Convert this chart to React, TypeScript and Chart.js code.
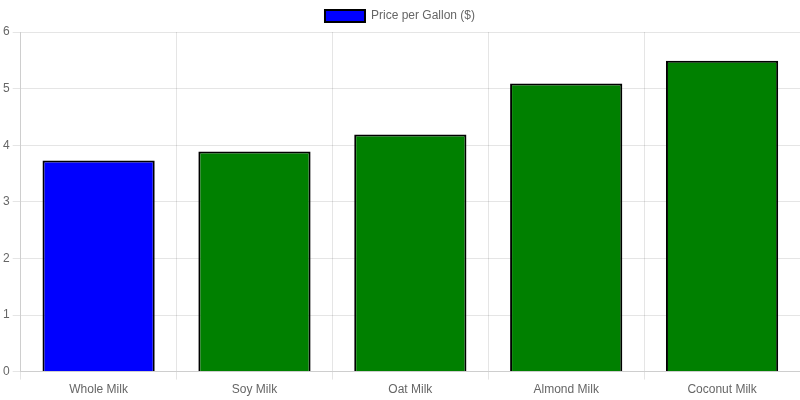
import { useEffect, useRef } from 'react';
import Chart from 'chart.js/auto';

const milkTypes = ['Whole Milk', 'Soy Milk', 'Oat Milk', 'Almond Milk', 'Coconut Milk'];
const pricePerGallon = [3.73, 3.89, 4.19, 5.09, 5.49];
const barColors = ['blue', 'green', 'green', 'green', 'green'];

export default function App() {
  const canvasRef = useRef<HTMLCanvasElement | null>(null);

  useEffect(() => {
    if (!canvasRef.current) {
      return;
    }

    const chart = new Chart(canvasRef.current, {
      type: 'bar',
      data: {
        labels: milkTypes,
        datasets: [
          {
            label: 'Price per Gallon ($)',
            data: pricePerGallon,
            backgroundColor: barColors,
            borderColor: 'black',
            borderWidth: 2,
          },
        ],
      },
      options: {
        animation: false,
        responsive: true,
        maintainAspectRatio: false,
        scales: {
          y: {
            beginAtZero: true,
            max: 6,
            ticks: { stepSize: 1 },
          },
        },
      },
    });

    return () => {
      chart.destroy();
    };
  }, []);

  return (
    <div style={{ position: 'fixed', top: 0, left: 0, width: 800, height: 400 }}>
      <canvas ref={canvasRef} />
    </div>
  );
}
